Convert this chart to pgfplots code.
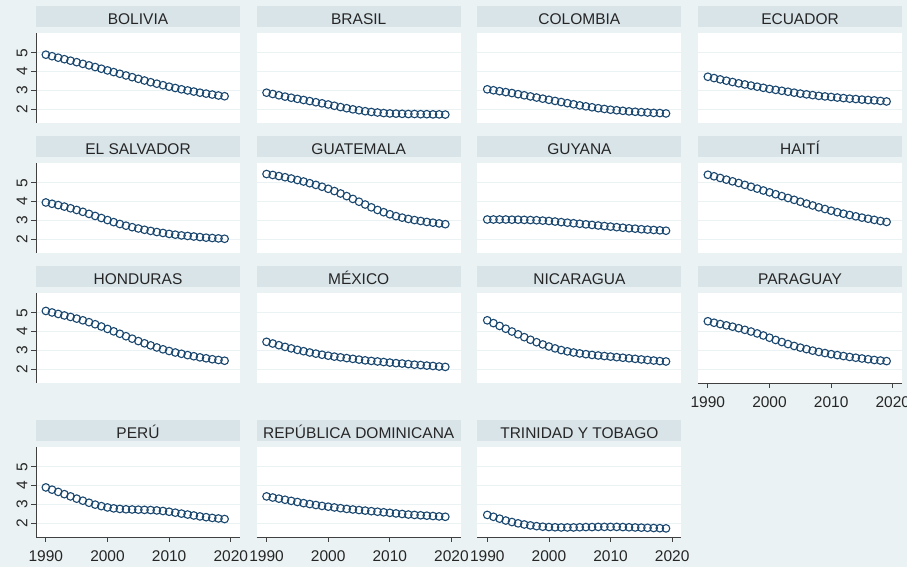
\documentclass[border=0pt]{standalone}
\usepackage{fontspec}
\setmainfont{Liberation Sans}
\usepackage{pgfplots}
\usepackage{pgfplotstable}
\pgfplotsset{compat=1.18}

\definecolor{bgpanel}{RGB}{234,242,243}
\definecolor{strip}{RGB}{217,228,233}
\definecolor{mk}{RGB}{26,71,111}
\definecolor{gridc}{RGB}{234,242,243}

% Total fertility rate, 1990-2019
\pgfplotstableread{
year BOL  BRA  COL  ECU  SLV  GTM  GUY  HTI  HND  MEX  NIC  PRY  PER  DOM  TTO
1990 4.90 2.87 3.05 3.72 3.95 5.47 3.04 5.43 5.10 3.45 4.60 4.55 3.90 3.42 2.43
1991 4.82 2.80 3.00 3.65 3.88 5.42 3.04 5.35 5.02 3.36 4.45 4.47 3.78 3.36 2.33
1992 4.74 2.73 2.95 3.58 3.81 5.36 3.04 5.26 4.94 3.27 4.30 4.40 3.66 3.30 2.23
1993 4.66 2.66 2.90 3.51 3.73 5.30 3.04 5.17 4.86 3.18 4.15 4.33 3.54 3.24 2.13
1994 4.58 2.60 2.85 3.44 3.64 5.23 3.03 5.08 4.78 3.10 4.00 4.26 3.42 3.18 2.05
1995 4.50 2.54 2.79 3.37 3.55 5.15 3.03 4.99 4.69 3.02 3.85 4.18 3.30 3.12 1.98
1996 4.41 2.48 2.73 3.31 3.45 5.07 3.02 4.89 4.60 2.95 3.70 4.09 3.19 3.06 1.92
1997 4.33 2.42 2.67 3.25 3.34 4.98 3.01 4.79 4.50 2.88 3.56 4.00 3.08 3.01 1.87
1998 4.24 2.36 2.61 3.19 3.23 4.89 3.00 4.69 4.39 2.82 3.43 3.90 2.98 2.96 1.83
1999 4.15 2.30 2.55 3.13 3.12 4.79 2.98 4.59 4.27 2.76 3.31 3.79 2.90 2.91 1.80
2000 4.06 2.24 2.49 3.07 3.01 4.68 2.96 4.49 4.14 2.71 3.20 3.67 2.83 2.87 1.78
2001 3.97 2.17 2.43 3.02 2.90 4.56 2.93 4.39 4.01 2.66 3.10 3.55 2.78 2.83 1.77
2002 3.88 2.10 2.37 2.97 2.80 4.43 2.90 4.29 3.88 2.62 3.01 3.44 2.75 2.79 1.76
2003 3.79 2.04 2.31 2.92 2.71 4.29 2.87 4.19 3.75 2.58 2.94 3.33 2.73 2.75 1.76
2004 3.70 1.98 2.25 2.87 2.63 4.14 2.84 4.09 3.62 2.54 2.88 3.23 2.72 2.72 1.76
2005 3.61 1.93 2.19 2.82 2.56 3.99 2.81 3.99 3.49 2.50 2.83 3.14 2.71 2.69 1.77
2006 3.52 1.88 2.14 2.78 2.49 3.84 2.78 3.89 3.37 2.46 2.79 3.06 2.70 2.66 1.78
2007 3.43 1.84 2.09 2.74 2.43 3.69 2.75 3.79 3.26 2.43 2.75 2.98 2.69 2.63 1.78
2008 3.35 1.81 2.04 2.70 2.37 3.55 2.72 3.69 3.15 2.40 2.72 2.91 2.67 2.60 1.79
2009 3.27 1.78 2.00 2.67 2.32 3.43 2.69 3.60 3.05 2.37 2.69 2.85 2.64 2.57 1.79
2010 3.19 1.76 1.96 2.64 2.27 3.32 2.66 3.51 2.96 2.34 2.66 2.79 2.60 2.54 1.79
2011 3.12 1.75 1.93 2.61 2.23 3.22 2.63 3.43 2.88 2.31 2.63 2.74 2.55 2.51 1.79
2012 3.05 1.74 1.90 2.58 2.19 3.14 2.60 3.35 2.81 2.29 2.60 2.69 2.50 2.48 1.78
2013 2.99 1.73 1.87 2.55 2.16 3.07 2.57 3.28 2.74 2.26 2.57 2.64 2.45 2.45 1.77
2014 2.93 1.73 1.85 2.53 2.13 3.01 2.55 3.21 2.68 2.23 2.54 2.60 2.40 2.43 1.76
2015 2.87 1.72 1.83 2.50 2.10 2.96 2.52 3.14 2.62 2.21 2.51 2.56 2.35 2.41 1.75
2016 2.82 1.72 1.81 2.48 2.07 2.91 2.50 3.08 2.57 2.18 2.48 2.52 2.31 2.39 1.74
2017 2.77 1.71 1.79 2.46 2.05 2.87 2.48 3.02 2.52 2.16 2.45 2.48 2.27 2.37 1.73
2018 2.72 1.71 1.78 2.43 2.03 2.83 2.46 2.96 2.48 2.13 2.42 2.45 2.24 2.35 1.72
2019 2.68 1.70 1.76 2.40 2.01 2.79 2.44 2.91 2.44 2.11 2.40 2.42 2.21 2.33 1.71
}\tfr

\pgfplotsset{
  panel/.style={
    scale only axis, width=204pt, height=90pt,
    xmin=1988.4, xmax=2021.5, ymin=1.25, ymax=6.06,
    axis x line*=bottom, axis y line*=left,
    x axis line style={draw=none}, y axis line style={draw=none},
    xtick={1990,2000,2010,2020}, ytick={2,3,4,5},
    xticklabels={}, yticklabels={},
    xtick style={draw=none}, ytick style={draw=none},
    tick align=outside, major tick length=5pt,
    ymajorgrids, grid style={gridc, line width=0.8pt},
    axis background/.style={fill=white},
    title style={at={(0.5,1)}, anchor=south, yshift=0pt, fill=strip,
      minimum width=204pt, inner sep=0pt, text height=18.6pt, text depth=2.4pt,
      font=\fontsize{15.5}{18}\selectfont, text=black!85},
    ticklabel style={font=\fontsize{15.5}{18}\selectfont, text=black!85},
    /pgf/number format/assume math mode=true,
  },
  pts/.style={only marks, mark=o, mark size=3.8pt, draw=mk, line width=1.1pt,
    mark options={solid, draw=mk, fill=white}},
  yax/.style={
    y axis line style={draw=black!75, line width=0.8pt},
    ytick style={draw=black!75, line width=0.8pt},
    yticklabels={2,3,4,5},
    yticklabel style={rotate=90, anchor=south},
  },
  xax/.style={
    x axis line style={draw=black!75, line width=0.8pt},
    xtick style={draw=black!75, line width=0.8pt},
    xticklabels={1990,2000,2010,2020},
    xticklabel style={yshift=-5pt},
  },
}

\begin{document}
\begin{tikzpicture}[x=1pt,y=1pt]
\useasboundingbox (0,0) rectangle (907,567);
\clip (0,0) rectangle (907,567);
\fill[bgpanel] (0,0) rectangle (907,567);

% row 1
\begin{axis}[panel, yax, at={(36pt,444pt)}, title={BOLIVIA}]
\addplot[pts] table[x=year,y=BOL]{\tfr};
\end{axis}
\begin{axis}[panel, at={(256.7pt,444pt)}, title={BRASIL}]
\addplot[pts] table[x=year,y=BRA]{\tfr};
\end{axis}
\begin{axis}[panel, at={(477.4pt,444pt)}, title={COLOMBIA}]
\addplot[pts] table[x=year,y=COL]{\tfr};
\end{axis}
\begin{axis}[panel, at={(698pt,444pt)}, title={ECUADOR}]
\addplot[pts] table[x=year,y=ECU]{\tfr};
\end{axis}

% row 2
\begin{axis}[panel, yax, at={(36pt,314pt)}, title={EL SALVADOR}]
\addplot[pts] table[x=year,y=SLV]{\tfr};
\end{axis}
\begin{axis}[panel, at={(256.7pt,314pt)}, title={GUATEMALA}]
\addplot[pts] table[x=year,y=GTM]{\tfr};
\end{axis}
\begin{axis}[panel, at={(477.4pt,314pt)}, title={GUYANA}]
\addplot[pts] table[x=year,y=GUY]{\tfr};
\end{axis}
\begin{axis}[panel, at={(698pt,314pt)}, title={HAITÍ}]
\addplot[pts] table[x=year,y=HTI]{\tfr};
\end{axis}

% row 3
\begin{axis}[panel, yax, at={(36pt,184pt)}, title={HONDURAS}]
\addplot[pts] table[x=year,y=HND]{\tfr};
\end{axis}
\begin{axis}[panel, at={(256.7pt,184pt)}, title={MÉXICO}]
\addplot[pts] table[x=year,y=MEX]{\tfr};
\end{axis}
\begin{axis}[panel, at={(477.4pt,184pt)}, title={NICARAGUA}]
\addplot[pts] table[x=year,y=NIC]{\tfr};
\end{axis}
\begin{axis}[panel, xax, at={(698pt,184pt)}, title={PARAGUAY}]
\addplot[pts] table[x=year,y=PRY]{\tfr};
\end{axis}

% row 4
\begin{axis}[panel, yax, xax, at={(36pt,30pt)}, title={PERÚ}]
\addplot[pts] table[x=year,y=PER]{\tfr};
\end{axis}
\begin{axis}[panel, xax, at={(256.7pt,30pt)}, title={REPÚBLICA DOMINICANA}]
\addplot[pts] table[x=year,y=DOM]{\tfr};
\end{axis}
\begin{axis}[panel, xax, at={(477.4pt,30pt)}, title={TRINIDAD Y TOBAGO}]
\addplot[pts] table[x=year,y=TTO]{\tfr};
\end{axis}
\end{tikzpicture}
\end{document}
